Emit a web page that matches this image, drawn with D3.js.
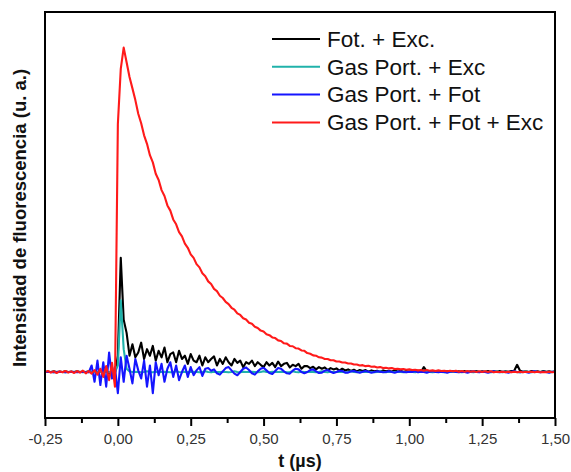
<!DOCTYPE html>
<html>
<head>
<meta charset="utf-8">
<script src="https://cdn.jsdelivr.net/npm/d3@7"></script>
<style>
  body { margin: 0; background: #fff; }
  svg { display: block; font-family: "Liberation Sans", Arial, sans-serif; }
</style>
</head>
<body>
<div id="chart"></div>
<script>
// sampling of the traces (µs)
const T_START = -0.25;
const T_STEP = 0.01;

const X_TICKS = [-0.25, 0, 0.25, 0.5, 0.75, 1.0, 1.25, 1.5];
const X_MINOR = [-0.125, 0.125, 0.375, 0.625, 0.875, 1.125, 1.375];

const NAMES = ["Fot. + Exc.", "Gas Port. + Exc", "Gas Port. + Fot", "Gas Port. + Fot + Exc"];

// Fot. + Exc.
const fotExc = [
  0.000, 0.001, 0.000, 0.002, 0.000, 0.001, 0.000, 0.002, 0.000, 0.001,
  0.000, 0.002, 0.000, 0.001, 0.000, 0.002, 0.000, 0.003, -0.002, 0.004,
  -0.003, 0.004, -0.004, 0.005, -0.004, 0.050, 0.350, 0.160, 0.120, 0.050,
  0.085, 0.045, 0.060, 0.090, 0.040, 0.070, 0.050, 0.080, 0.035, 0.065,
  0.045, 0.075, 0.030, 0.055, 0.060, 0.030, 0.065, 0.040, 0.050, 0.025,
  0.055, 0.035, 0.030, 0.050, 0.020, 0.045, 0.030, 0.040, 0.048, 0.020,
  0.040, 0.025, 0.045, 0.030, 0.020, 0.040, 0.028, 0.035, 0.015, 0.030,
  0.025, 0.035, 0.018, 0.030, 0.022, 0.015, 0.030, 0.020, 0.028, 0.015,
  0.032, 0.018, 0.025, 0.028, 0.014, 0.022, 0.018, 0.025, 0.010, 0.018,
  0.018, 0.012, 0.016, 0.008, 0.015, 0.010, 0.014, 0.006, 0.012, 0.008,
  0.011, 0.004, 0.010, 0.005, 0.008, 0.003, 0.007, 0.002, 0.006, 0.003,
  0.006, 0.001, 0.005, 0.002, 0.004, 0.001, 0.005, 0.002, 0.004, 0.001,
  0.006, 0.001, 0.004, 0.000, 0.003, 0.001, 0.003, 0.001, 0.004, 0.000,
  0.015, 0.002, 0.003, 0.000, 0.003, 0.001, 0.003, 0.000, 0.002, 0.001,
  0.003, 0.000, 0.002, 0.001, 0.003, 0.000, 0.002, 0.001, 0.003, 0.000,
  0.002, 0.001, 0.003, 0.000, 0.002, 0.001, 0.003, 0.000, 0.002, 0.001,
  0.003, 0.004, 0.022, 0.004, 0.001, 0.002, 0.000, 0.003, 0.001, 0.002,
  0.000, 0.003, 0.001, 0.002, 0.000, 0.002
];

// Gas Port. + Exc
const gasExc = [
  0.000, 0.001, 0.000, -0.001, 0.000, 0.001, 0.000, -0.001, 0.000, 0.001,
  0.000, 0.001, 0.000, -0.001, 0.000, 0.001, 0.000, -0.001, 0.000, 0.001,
  0.000, 0.001, 0.000, 0.001, 0.000, 0.020, 0.220, 0.070, 0.010, 0.002,
  0.000, 0.001, 0.000, -0.001, 0.000, 0.002, 0.000, -0.001, 0.001, 0.000,
  0.000, 0.001, 0.000, -0.001, 0.000, 0.002, 0.000, -0.001, 0.001, 0.000,
  0.000, 0.001, 0.000, -0.001, 0.000, 0.002, 0.000, -0.001, 0.001, 0.000,
  0.000, 0.001, 0.000, -0.001, 0.000, 0.002, 0.000, -0.001, 0.001, 0.000,
  0.000, 0.001, 0.000, -0.001, 0.000, 0.002, 0.000, -0.001, 0.001, 0.000,
  0.000, 0.001, 0.000, -0.001, 0.000, 0.002, 0.000, -0.001, 0.001, 0.000,
  0.000, 0.001, 0.000, -0.001, 0.000, 0.002, 0.000, -0.001, 0.001, 0.000,
  0.000, 0.001, 0.000, -0.001, 0.000, 0.002, 0.000, -0.001, 0.001, 0.000,
  0.000, 0.001, 0.000, -0.001, 0.000, 0.002, 0.000, -0.001, 0.001, 0.000,
  0.000, 0.001, 0.000, -0.001, 0.000, 0.002, 0.000, -0.001, 0.001, 0.000,
  0.000, 0.001, 0.000, -0.001, 0.000, 0.002, 0.000, -0.001, 0.001, 0.000,
  0.000, 0.001, 0.000, -0.001, 0.000, 0.002, 0.000, -0.001, 0.001, 0.000,
  0.000, 0.001, 0.000, -0.001, 0.000, 0.002, 0.000, -0.001, 0.001, 0.000,
  0.000, 0.001, 0.000, -0.001, 0.000, 0.002, 0.000, -0.001, 0.001, 0.000,
  0.000, 0.001, 0.000, -0.001, 0.000, 0.001
];

// Gas Port. + Fot
const gasFot = [
  0.000, 0.001, 0.000, -0.001, 0.000, 0.001, 0.000, -0.001, 0.000, 0.001,
  0.000, -0.001, 0.000, 0.001, 0.000, -0.001, 0.020, -0.030, 0.035, -0.040,
  0.030, -0.045, 0.060, -0.020, 0.015, -0.065, 0.045, -0.030, 0.050, 0.010,
  -0.035, 0.040, 0.005, -0.020, 0.035, -0.045, 0.020, -0.065, 0.030, -0.010,
  0.025, -0.030, 0.010, 0.030, -0.015, 0.020, -0.025, 0.000, 0.020, -0.015,
  0.015, -0.010, 0.005, 0.015, -0.012, 0.010, 0.012, 0.004, 0.008, -0.004,
  -0.008, 0.002, 0.012, 0.015, 0.005, -0.005, -0.010, 0.000, 0.010, 0.014,
  0.006, -0.004, -0.008, 0.002, 0.010, 0.013, 0.005, -0.003, -0.006, 0.003,
  0.012, 0.010, 0.002, -0.004, -0.005, 0.004, 0.010, 0.008, 0.000, -0.004,
  0.000, 0.006, 0.008, 0.002, -0.003, -0.002, 0.004, 0.006, 0.001, -0.003,
  0.000, 0.004, 0.003, -0.002, -0.002, 0.002, 0.003, 0.000, -0.002, 0.001,
  0.003, 0.001, -0.002, 0.000, 0.002, 0.001, -0.001, 0.000, 0.002, 0.000,
  -0.002, 0.001, 0.002, 0.000, -0.001, 0.001, 0.000, 0.002, -0.001, 0.001,
  0.000, -0.002, 0.001, 0.002, 0.000, -0.001, 0.001, 0.000, -0.002, 0.001,
  0.002, 0.000, -0.001, 0.001, 0.000, -0.002, 0.001, 0.002, 0.000, -0.001,
  0.001, 0.000, -0.002, 0.001, 0.002, 0.000, -0.001, 0.001, 0.000, -0.002,
  0.001, 0.002, 0.000, -0.001, 0.001, 0.000, -0.002, 0.001, 0.002, 0.000,
  -0.001, 0.001, 0.000, -0.002, 0.001, 0.000
];

// Gas Port. + Fot + Exc
const gasFotExc = [
  0.000, 0.003, -0.002, 0.002, -0.003, 0.002, -0.001, 0.003, -0.002, 0.002,
  -0.003, 0.003, -0.002, 0.004, -0.004, 0.003, -0.005, 0.006, -0.008, 0.010,
  -0.015, 0.018, -0.025, 0.028, -0.045, 0.760, 0.930, 0.995, 0.950, 0.905,
  0.870, 0.834, 0.792, 0.763, 0.726, 0.700, 0.665, 0.643, 0.608, 0.589,
  0.558, 0.540, 0.511, 0.495, 0.468, 0.453, 0.429, 0.416, 0.394, 0.381,
  0.361, 0.350, 0.331, 0.321, 0.303, 0.294, 0.278, 0.270, 0.255, 0.248,
  0.234, 0.227, 0.215, 0.208, 0.197, 0.191, 0.180, 0.175, 0.165, 0.161,
  0.151, 0.148, 0.139, 0.135, 0.127, 0.124, 0.116, 0.113, 0.106, 0.104,
  0.097, 0.095, 0.088, 0.087, 0.080, 0.079, 0.073, 0.072, 0.066, 0.065,
  0.058, 0.056, 0.051, 0.050, 0.045, 0.044, 0.040, 0.040, 0.036, 0.036,
  0.032, 0.032, 0.029, 0.029, 0.026, 0.026, 0.023, 0.023, 0.020, 0.021,
  0.018, 0.019, 0.016, 0.017, 0.014, 0.015, 0.012, 0.013, 0.011, 0.012,
  0.009, 0.010, 0.008, 0.009, 0.007, 0.008, 0.006, 0.007, 0.005, 0.006,
  0.004, 0.006, 0.004, 0.005, 0.003, 0.005, 0.003, 0.004, 0.002, 0.004,
  0.002, 0.004, 0.001, 0.003, 0.001, 0.003, 0.001, 0.002, 0.000, 0.002,
  0.000, 0.002, 0.000, 0.002, -0.001, 0.001, 0.000, 0.001, -0.001, 0.001,
  -0.001, 0.001, -0.001, 0.001, -0.001, 0.001, 0.000, 0.001, -0.001, 0.001,
  -0.001, 0.000, -0.001, 0.001, -0.001, 0.000
];

const WIDTH = 571;
const HEIGHT = 472;
const LEFT = 45, RIGHT = 555, TOP = 12, BOTTOM = 418;

const COLORS = ["#000000", "#20b2aa", "#1515ff", "#ff1a1a"];
const series = [fotExc, gasExc, gasFot, gasFotExc].map((vals, k) => ({
  name: NAMES[k],
  color: COLORS[k],
  points: vals.map((v, i) => [T_START + i * T_STEP, v])
}));

const X_SCALE = d3.scaleLinear().domain([-0.25, 1.5]).range([LEFT, RIGHT]);
const Y_SCALE = d3.scaleLinear().domain([-0.1411, 1.1043]).range([BOTTOM, TOP]);

const locale = d3.formatLocale({ decimal: ",", thousands: ".", grouping: [3], currency: ["", ""], minus: "-" });
const fmt = locale.format(".2f");

let svg = d3.select("#chart")
            .append("svg")
            .attr("width", WIDTH)
            .attr("height", HEIGHT);

svg.append("clipPath")
   .attr("id", "plot-clip")
   .append("rect")
   .attr("x", LEFT)
   .attr("y", TOP)
   .attr("width", RIGHT - LEFT)
   .attr("height", BOTTOM - TOP);

const line = d3.line()
               .x(d => X_SCALE(d[0]))
               .y(d => Y_SCALE(d[1]));

svg.append("g")
   .attr("clip-path", "url(#plot-clip)")
   .selectAll("path")
   .data(series)
   .enter()
   .append("path")
   .attr("d", d => line(d.points))
   .attr("fill", "none")
   .attr("stroke", d => d.color)
   .attr("stroke-width", 2.1)
   .attr("stroke-linejoin", "round");

// minor ticks
svg.append("g")
   .attr("transform", "translate(0," + BOTTOM + ")")
   .call(d3.axisBottom(X_SCALE).tickValues(X_MINOR).tickSize(5).tickSizeOuter(0).tickFormat(""))
   .call(g => g.select(".domain").remove())
   .call(g => g.selectAll("line").attr("stroke-width", 2));

// major ticks
svg.append("g")
   .attr("id", "x-axis")
   .attr("transform", "translate(0," + BOTTOM + ")")
   .call(d3.axisBottom(X_SCALE).tickValues(X_TICKS).tickSize(8).tickSizeOuter(0).tickPadding(7).tickFormat(fmt))
   .call(g => g.select(".domain").remove())
   .call(g => g.selectAll("line").attr("stroke-width", 2))
   .call(g => g.selectAll("text")
               .attr("font-size", 15)
               .attr("font-family", "'Liberation Sans', Arial, sans-serif")
               .attr("fill", "#333"));

// frame
svg.append("rect")
   .attr("x", LEFT)
   .attr("y", TOP)
   .attr("width", RIGHT - LEFT)
   .attr("height", BOTTOM - TOP)
   .attr("fill", "none")
   .attr("stroke", "#000")
   .attr("stroke-width", 2);

svg.append("text")
   .attr("x", (LEFT + RIGHT) / 2)
   .attr("y", 467)
   .attr("text-anchor", "middle")
   .attr("font-size", 18)
   .attr("font-weight", "bold")
   .attr("fill", "#111")
   .text("t (\u00b5s)");

svg.append("text")
   .attr("transform", "translate(26,218) rotate(-90)")
   .attr("text-anchor", "middle")
   .attr("font-size", 18.5)
   .attr("font-weight", "bold")
   .attr("fill", "#111")
   .text("Intensidad de fluorescencia (u. a.)");

// legend
const legend = svg.append("g")
                  .selectAll("g")
                  .data(series)
                  .enter()
                  .append("g")
                  .attr("transform", (d, i) => "translate(272," + (39 + i * 27.8) + ")");

legend.append("line")
      .attr("x1", 0)
      .attr("x2", 48)
      .attr("stroke", d => d.color)
      .attr("stroke-width", 2);

legend.append("text")
      .attr("x", 55)
      .attr("dy", "0.35em")
      .attr("font-size", 22.5)
      .attr("fill", "#111")
      .text(d => d.name);
</script>
</body>
</html>
